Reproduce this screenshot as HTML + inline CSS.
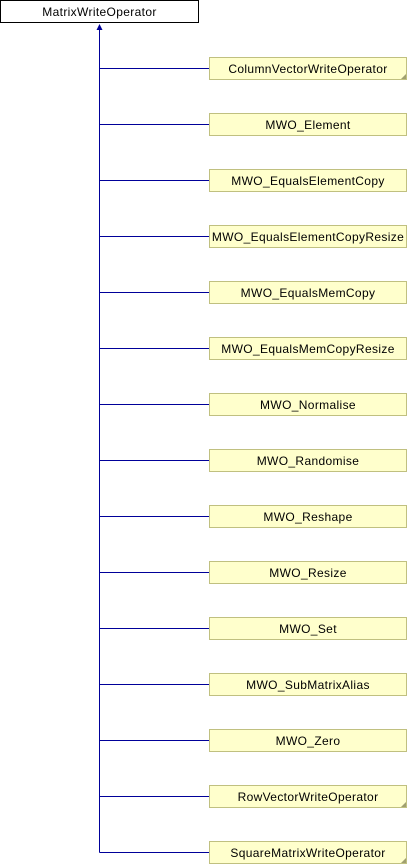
<!DOCTYPE html>
<html><head><meta charset="utf-8"><style>
html,body{margin:0;padding:0;background:#fff;width:408px;height:864px;overflow:hidden}
svg text{font-family:"Liberation Sans",sans-serif;font-size:12px;fill:#000;letter-spacing:0.35px}
</style></head><body>
<svg width="408" height="864" viewBox="0 0 408 864" xmlns="http://www.w3.org/2000/svg">
<rect x="0.5" y="0.5" width="198" height="22" fill="#fff" stroke="#000"/>
<text x="99.5" y="16" text-anchor="middle">MatrixWriteOperator</text>
<line x1="99.5" y1="28" x2="99.5" y2="852.5" stroke="#000099" stroke-width="1"/>
<polygon points="99.5,24 96.5,30 102.5,30" fill="#000099"/>
<g id="boxes"></g>
</svg>
<script>
var names=["ColumnVectorWriteOperator","MWO_Element","MWO_EqualsElementCopy","MWO_EqualsElementCopyResize","MWO_EqualsMemCopy","MWO_EqualsMemCopyResize","MWO_Normalise","MWO_Randomise","MWO_Reshape","MWO_Resize","MWO_Set","MWO_SubMatrixAlias","MWO_Zero","RowVectorWriteOperator","SquareMatrixWriteOperator"];
var fold={0:1,13:1,14:1};
var s="";
names.forEach(function(n,i){
 var y=57+i*56, cy=y+11.5;
 s+='<line x1="99.5" y1="'+cy+'" x2="209" y2="'+cy+'" stroke="#000099"/>';
 s+='<rect x="209.5" y="'+(y+0.5)+'" width="197" height="22" fill="#ffffcc" stroke="#c0c080"/>';
 if(fold[i]) s+='<polygon points="406,'+(y+17)+' 406,'+(y+22)+' 401,'+(y+22)+'" fill="#a0a070"/>';
 s+='<text x="308" y="'+(y+16)+'" text-anchor="middle">'+n+'</text>';
});
document.getElementById("boxes").innerHTML=s;
</script>
</body></html>
